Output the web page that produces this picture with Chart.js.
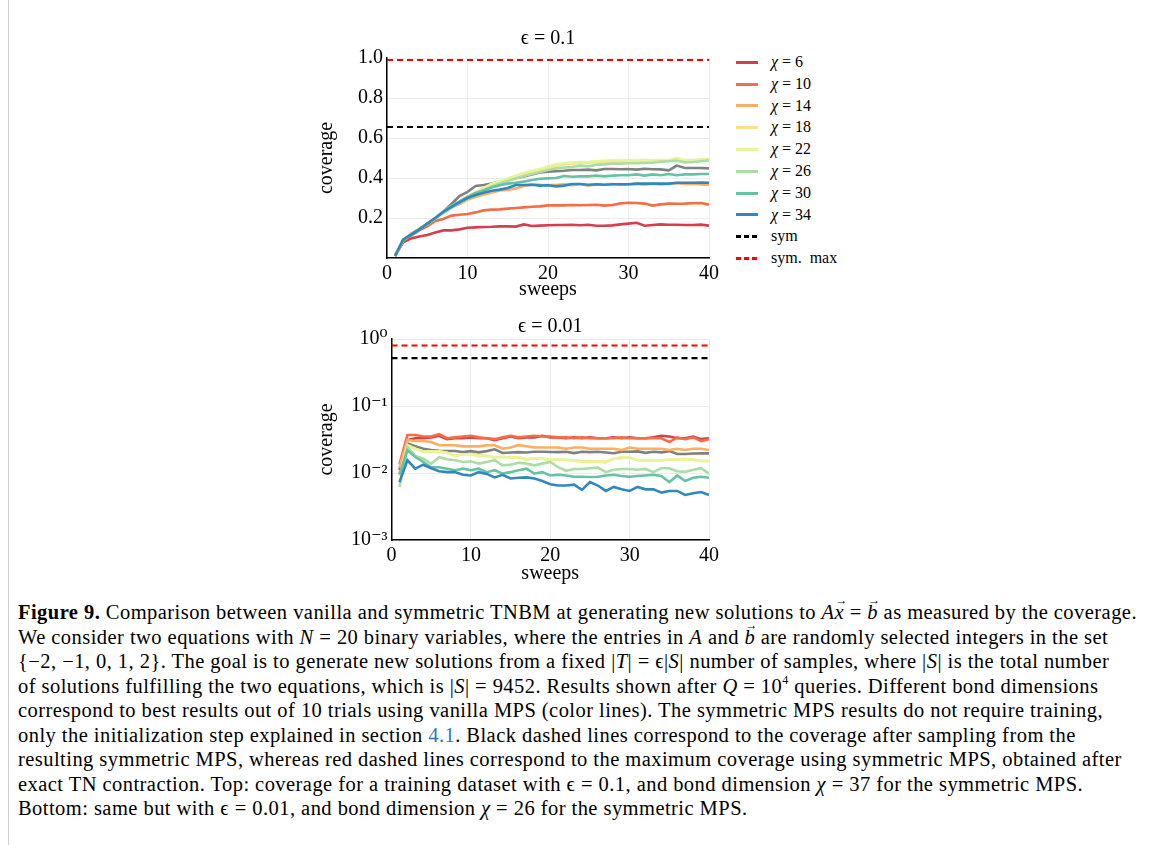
<!DOCTYPE html>
<html>
<head>
<meta charset="utf-8">
<script src="https://cdn.jsdelivr.net/npm/chart.js@4.4.1/dist/chart.umd.min.js"></script>
<style>
  html, body { margin: 0; padding: 0; background: #fff; }
  body { width: 1167px; height: 845px; position: relative; overflow: hidden;
         font-family: "Liberation Serif", "DejaVu Serif", serif; color: #000; }
  .frame { position: absolute; left: 8px; top: 0; bottom: 0; border-left: 1px solid #cfcfcf; }
  canvas { position: absolute; }
  #legend { position: absolute; left: 736px; top: 51px; font-size: 16px; }
  #legend .item { height: 21.8px; line-height: 21.8px; white-space: nowrap; }
  #legend .swatch { display: inline-block; width: 22px; height: 3px; vertical-align: middle; margin-right: 13px; position: relative; top: -1px; }
  #caption { position: absolute; left: 18px; top: 600px; font-size: 20.5px; letter-spacing: 0.45px; line-height: 24.5px; white-space: nowrap; }
  #caption sup { font-size: 12px; line-height: 0; vertical-align: baseline; position: relative; top: -0.7em; }
  .vec { position: relative; font-style: italic; }
  .vec::before { content: "\2192"; position: absolute; left: 1px; top: -13px; font-size: 12px; font-style: normal; }
  .link { color: #2a7ab8; }
</style>
</head>
<body>
<div class="frame"></div>
<canvas id="topChart" width="430" height="286" style="left:300px;top:20px"></canvas>
<canvas id="bottomChart" width="430" height="290" style="left:300px;top:300px"></canvas>
<div id="legend"></div>
<div id="caption">
<b>Figure 9.</b> Comparison between vanilla and symmetric TNBM at generating new solutions to <i>A</i><span class="vec">x</span> = <span class="vec">b</span> as measured by the coverage.<br>
We consider two equations with <i>N</i> = 20 binary variables, where the entries in <i>A</i> and <span class="vec">b</span> are randomly selected integers in the set<br>
{−2, −1, 0, 1, 2}. The goal is to generate new solutions from a fixed |<i>T</i>| = ϵ|<i>S</i>| number of samples, where |<i>S</i>| is the total number<br>
of solutions fulfilling the two equations, which is |<i>S</i>| = 9452. Results shown after <i>Q</i> = 10<sup>4</sup> queries. Different bond dimensions<br>
correspond to best results out of 10 trials using vanilla MPS (color lines). The symmetric MPS results do not require training,<br>
only the initialization step explained in section <span class="link">4.1</span>. Black dashed lines correspond to the coverage after sampling from the<br>
resulting symmetric MPS, whereas red dashed lines correspond to the maximum coverage using symmetric MPS, obtained after<br>
exact TN contraction. Top: coverage for a training dataset with ϵ = 0.1, and bond dimension <i>χ</i> = 37 for the symmetric MPS.<br>
Bottom: same but with ϵ = 0.01, and bond dimension <i>χ</i> = 26 for the symmetric MPS.
</div>
<script>
// === data ===
const sweeps = [1, 2, 3, 4, 5, 6, 7, 8, 9, 10, 11, 12, 13, 14, 15, 16, 17, 18, 19, 20,
  21, 22, 23, 24, 25, 26, 27, 28, 29, 30, 31, 32, 33, 34, 35, 36, 37, 38, 39, 40];
const refSpan = [0, 40];

const chiLabels = ["6", "10", "14", "18", "22", "26", "30", "34"];
const chiColors = ["#d53e4f", "#f46d43", "#fdae61", "#fee08b", "#e6f598", "#abdda4", "#66c2a5", "#3288bd"];
const grayColor = "#808080";

// top panel, eps = 0.1
const top6  = [0.01, 0.078, 0.098, 0.108, 0.115, 0.128, 0.138, 0.138, 0.143, 0.151, 0.153, 0.155, 0.156, 0.158, 0.158, 0.157, 0.168, 0.16, 0.162, 0.164,
  0.165, 0.165, 0.166, 0.164, 0.166, 0.161, 0.161, 0.163, 0.168, 0.172, 0.176, 0.161, 0.165, 0.168, 0.166, 0.166, 0.165, 0.165, 0.167, 0.162];
const top10 = [0.01, 0.085, 0.112, 0.138, 0.158, 0.185, 0.195, 0.212, 0.216, 0.22, 0.228, 0.238, 0.242, 0.243, 0.247, 0.25, 0.253, 0.256, 0.258, 0.263,
  0.264, 0.263, 0.265, 0.264, 0.265, 0.266, 0.262, 0.265, 0.273, 0.276, 0.275, 0.272, 0.262, 0.268, 0.272, 0.271, 0.272, 0.274, 0.275, 0.267];
const top14 = [0.01, 0.09, 0.12, 0.145, 0.17, 0.2, 0.228, 0.252, 0.27, 0.292, 0.305, 0.318, 0.328, 0.338, 0.34, 0.348, 0.36, 0.368, 0.366, 0.365,
  0.365, 0.368, 0.364, 0.37, 0.362, 0.368, 0.366, 0.37, 0.365, 0.368, 0.37, 0.366, 0.372, 0.368, 0.37, 0.374, 0.37, 0.371, 0.368, 0.366];
const top18 = [0.01, 0.09, 0.12, 0.145, 0.17, 0.198, 0.226, 0.252, 0.278, 0.302, 0.326, 0.346, 0.366, 0.38, 0.392, 0.405, 0.418, 0.43, 0.44, 0.452,
  0.462, 0.468, 0.472, 0.475, 0.476, 0.478, 0.48, 0.482, 0.483, 0.484, 0.483, 0.485, 0.484, 0.486, 0.485, 0.49, 0.486, 0.486, 0.488, 0.49];
const top22 = [0.01, 0.09, 0.12, 0.145, 0.172, 0.2, 0.228, 0.255, 0.28, 0.305, 0.33, 0.35, 0.37, 0.385, 0.398, 0.412, 0.425, 0.437, 0.445, 0.458,
  0.468, 0.474, 0.478, 0.48, 0.48, 0.484, 0.486, 0.488, 0.488, 0.488, 0.488, 0.49, 0.488, 0.49, 0.49, 0.5, 0.49, 0.49, 0.494, 0.494];
const top26 = [0.01, 0.09, 0.12, 0.145, 0.17, 0.198, 0.225, 0.25, 0.275, 0.3, 0.322, 0.34, 0.358, 0.372, 0.385, 0.398, 0.41, 0.42, 0.43, 0.44,
  0.448, 0.452, 0.455, 0.462, 0.458, 0.466, 0.468, 0.472, 0.472, 0.474, 0.474, 0.475, 0.476, 0.482, 0.484, 0.486, 0.478, 0.48, 0.484, 0.488];
const top30 = [0.01, 0.09, 0.12, 0.145, 0.172, 0.2, 0.232, 0.262, 0.283, 0.306, 0.325, 0.338, 0.352, 0.364, 0.372, 0.376, 0.382, 0.39, 0.396, 0.398,
  0.4, 0.41, 0.406, 0.408, 0.408, 0.412, 0.408, 0.412, 0.414, 0.414, 0.418, 0.412, 0.418, 0.414, 0.42, 0.414, 0.418, 0.418, 0.42, 0.42];
const top34 = [0.01, 0.092, 0.117, 0.142, 0.172, 0.2, 0.23, 0.255, 0.278, 0.3, 0.315, 0.326, 0.336, 0.342, 0.35, 0.365, 0.365, 0.366, 0.362, 0.364,
  0.358, 0.362, 0.37, 0.37, 0.366, 0.369, 0.366, 0.369, 0.369, 0.369, 0.372, 0.372, 0.372, 0.372, 0.372, 0.376, 0.376, 0.376, 0.377, 0.376];
const topGray = [0.01, 0.09, 0.12, 0.145, 0.17, 0.2, 0.232, 0.27, 0.31, 0.33, 0.36, 0.365, 0.372, 0.382, 0.392, 0.4, 0.408, 0.418, 0.428, 0.432,
  0.434, 0.436, 0.44, 0.44, 0.442, 0.438, 0.445, 0.445, 0.444, 0.445, 0.442, 0.446, 0.444, 0.443, 0.438, 0.462, 0.45, 0.45, 0.45, 0.448];
const topSym = [0.655, 0.655];
const topSymMax = [0.99, 0.99];

// bottom panel, eps = 0.01
const bot6  = [0.011, 0.031, 0.033, 0.033, 0.034, 0.036, 0.032, 0.033, 0.033, 0.034, 0.033, 0.033, 0.031, 0.033, 0.035, 0.033, 0.034, 0.034, 0.036, 0.034,
  0.034, 0.033, 0.034, 0.033, 0.034, 0.033, 0.033, 0.034, 0.033, 0.034, 0.033, 0.033, 0.034, 0.036, 0.035, 0.033, 0.033, 0.035, 0.032, 0.033];
const bot10 = [0.0135, 0.037, 0.037, 0.035, 0.035, 0.038, 0.033, 0.034, 0.035, 0.036, 0.034, 0.033, 0.032, 0.034, 0.036, 0.034, 0.035, 0.036, 0.035, 0.035,
  0.034, 0.034, 0.033, 0.034, 0.033, 0.033, 0.033, 0.033, 0.034, 0.033, 0.033, 0.033, 0.033, 0.033, 0.029, 0.034, 0.032, 0.034, 0.030, 0.032];
const bot14 = [0.012, 0.031, 0.030, 0.030, 0.029, 0.026, 0.026, 0.026, 0.025, 0.025, 0.025, 0.026, 0.026, 0.023, 0.024, 0.026, 0.025, 0.024, 0.024, 0.024,
  0.024, 0.023, 0.024, 0.024, 0.023, 0.023, 0.023, 0.023, 0.022, 0.024, 0.023, 0.023, 0.023, 0.023, 0.022, 0.023, 0.022, 0.023, 0.023, 0.022];
const bot18 = [0.009, 0.026, 0.023, 0.021, 0.021, 0.021, 0.02, 0.018, 0.019, 0.019, 0.018, 0.018, 0.017, 0.0175, 0.017, 0.0172, 0.016, 0.0165, 0.0165, 0.0158,
  0.016, 0.0158, 0.0155, 0.015, 0.015, 0.015, 0.0148, 0.0165, 0.0168, 0.017, 0.0155, 0.0152, 0.0155, 0.0155, 0.0158, 0.016, 0.0162, 0.0158, 0.0152, 0.0152];
const bot22 = [0.009, 0.026, 0.023, 0.021, 0.021, 0.021, 0.02, 0.018, 0.019, 0.019, 0.018, 0.018, 0.017, 0.0175, 0.017, 0.0172, 0.016, 0.0165, 0.0165, 0.0155,
  0.016, 0.0155, 0.0152, 0.0146, 0.0146, 0.0148, 0.0143, 0.0165, 0.0168, 0.0172, 0.0155, 0.0152, 0.0155, 0.0155, 0.0158, 0.016, 0.0162, 0.0158, 0.015, 0.015];
const bot26 = [0.0062, 0.0245, 0.018, 0.0163, 0.0138, 0.0172, 0.016, 0.0155, 0.0146, 0.015, 0.0138, 0.0146, 0.0155, 0.013, 0.0133, 0.0142, 0.0138, 0.013, 0.0138, 0.0146,
  0.0122, 0.0108, 0.0115, 0.0115, 0.0118, 0.012, 0.0103, 0.0112, 0.0115, 0.0115, 0.0112, 0.0115, 0.0103, 0.0118, 0.0118, 0.0106, 0.0104, 0.0112, 0.0118, 0.0098];
const bot30 = [0.0095, 0.0218, 0.0173, 0.0146, 0.0122, 0.0122, 0.0116, 0.011, 0.0116, 0.011, 0.0116, 0.0103, 0.011, 0.0098, 0.0103, 0.011, 0.0116, 0.0098, 0.0103, 0.0092,
  0.0094, 0.0092, 0.0088, 0.0088, 0.0087, 0.0088, 0.0092, 0.0094, 0.009, 0.0088, 0.009, 0.0092, 0.0094, 0.009, 0.0073, 0.0092, 0.0076, 0.0085, 0.0088, 0.0085];
const bot34 = [0.0073, 0.0155, 0.0116, 0.0133, 0.0118, 0.0106, 0.0103, 0.0103, 0.0094, 0.0092, 0.0103, 0.0097, 0.0086, 0.0094, 0.0083, 0.0085, 0.0086, 0.0083, 0.0076, 0.0068,
  0.0065, 0.0065, 0.0067, 0.0056, 0.0073, 0.0065, 0.0054, 0.0062, 0.0057, 0.0054, 0.0062, 0.0057, 0.0057, 0.0051, 0.0054, 0.0054, 0.0047, 0.005, 0.0052, 0.0047];
const botGray = [0.0095, 0.0275, 0.025, 0.023, 0.022, 0.0215, 0.0213, 0.0213, 0.0205, 0.0212, 0.0203, 0.0212, 0.0226, 0.0199, 0.0202, 0.0205, 0.0202, 0.0208, 0.0208, 0.0206,
  0.0205, 0.0208, 0.0198, 0.0208, 0.0205, 0.0208, 0.0202, 0.0197, 0.0208, 0.0208, 0.021, 0.02, 0.0208, 0.0203, 0.0212, 0.0192, 0.0192, 0.0195, 0.0197, 0.0196];
const botSym = [0.52, 0.52];
const botSymMax = [0.80, 0.80];

const xTicks = [0, 10, 20, 30, 40];
const logTickValues = [0.001, 0.01, 0.1, 1];
const logTickLabels = ["10⁻³", "10⁻²", "10⁻¹", "10⁰"];

// === helpers ===
const serif = "'Liberation Serif', 'DejaVu Serif', serif";
Chart.defaults.font.family = serif;
Chart.defaults.color = "#000";

function pts(xs, ys) {
  return ys.map((y, i) => ({ x: xs[i], y: y }));
}

function buildDatasets(series, gray, sym, symMax) {
  // drawn bottom to top: gray, chi 6..34, sym, sym max
  const list = [];
  list.push({ data: pts(sweeps, gray), borderColor: grayColor, borderWidth: 2.6 });
  series.forEach((s, i) => {
    list.push({ data: pts(sweeps, s), borderColor: chiColors[i], borderWidth: 2.6 });
  });
  list.push({ data: pts(refSpan, sym), borderColor: "#000", borderWidth: 2.2, borderDash: [6, 4] });
  list.push({ data: pts(refSpan, symMax), borderColor: "#ff0000", borderWidth: 2.2, borderDash: [6, 4] });
  // Chart.js paints dataset 0 last, so reverse
  return list.reverse();
}

function baseOptions(titleText, titlePad, yScale, yWidth, xHeight) {
  return {
    responsive: false,
    animation: false,
    layout: { padding: { left: 10, right: 21, top: 0, bottom: 0 } },
    elements: { point: { radius: 0 }, line: { tension: 0, fill: false } },
    plugins: {
      legend: { display: false },
      tooltip: { enabled: false },
      title: {
        display: true, text: titleText, fullSize: false, color: "#000",
        font: { size: 20, weight: "normal" }, padding: titlePad
      }
    },
    scales: {
      x: {
        type: "linear", min: 0, max: 40,
        afterBuildTicks: s => { s.ticks = xTicks.map(v => ({ value: v })); },
        ticks: { font: { size: 20 }, padding: 4, maxRotation: 0 },
        grid: { color: "#ececec", drawTicks: false },
        border: { color: "#000", width: 1.5 },
        title: { display: true, text: "sweeps", font: { size: 20 }, padding: { top: 0, bottom: 4 } },
        afterFit: s => { s.height = xHeight; }
      },
      y: Object.assign({
        grid: { color: "#ececec", drawTicks: false },
        border: { color: "#000", width: 1.5 },
        title: { display: true, text: "coverage", font: { size: 20 }, padding: { top: 5, bottom: 0 } },
        afterFit: s => { s.width = yWidth; }
      }, yScale)
    }
  };
}

// === top chart ===
new Chart(document.getElementById("topChart"), {
  type: "line",
  data: { datasets: buildDatasets([top6, top10, top14, top18, top22, top26, top30, top34], topGray, topSym, topSymMax) },
  options: baseOptions("ϵ = 0.1", { top: 7, bottom: 7 }, {
    type: "linear", min: 0, max: 1,
    ticks: { stepSize: 0.2, font: { size: 20 }, padding: 4, callback: v => v === 0 ? "" : v.toFixed(1) }
  }, 77, 48)
});

// === bottom chart ===
new Chart(document.getElementById("bottomChart"), {
  type: "line",
  data: { datasets: buildDatasets([bot6, bot10, bot14, bot18, bot22, bot26, bot30, bot34], botGray, botSym, botSymMax) },
  options: baseOptions("ϵ = 0.01", { top: 15, bottom: 0 }, {
    type: "logarithmic", min: 0.001, max: 1,
    afterBuildTicks: s => { s.ticks = logTickValues.map(v => ({ value: v })); },
    ticks: { font: { size: 20 }, padding: 4, callback: v => logTickLabels[logTickValues.indexOf(v)] }
  }, 81.5, 50)
});

// === legend ===
const legendRows = chiLabels.map((c, i) => ({ html: "<i>χ</i> = " + c, bg: chiColors[i] }));
legendRows.push({ html: "sym", bg: "repeating-linear-gradient(90deg, #000 0 5px, transparent 5px 8px)" });
legendRows.push({ html: "sym.&nbsp; max", bg: "repeating-linear-gradient(90deg, #ff0000 0 5px, transparent 5px 8px)" });
document.getElementById("legend").innerHTML = legendRows.map(r =>
  `<div class="item"><span class="swatch" style="background:${r.bg}"></span>${r.html}</div>`
).join("");
</script>
</body>
</html>
